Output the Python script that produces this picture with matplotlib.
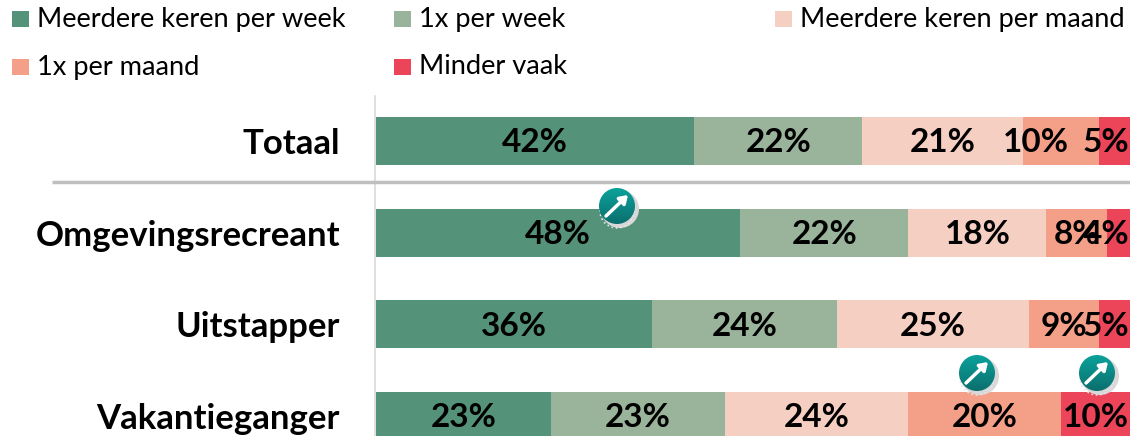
import numpy as np
from matplotlib import pyplot as plt
from matplotlib.colors import LinearSegmentedColormap
from matplotlib.patches import Circle, Rectangle

plt.rcParams['font.family'] = ['Lato', 'DejaVu Sans']

W, H = 1130, 436

groups = ['Totaal', 'Omgevingsrecreant', 'Uitstapper', 'Vakantieganger']
series = ['Meerdere keren per week', '1x per week', 'Meerdere keren per maand',
          '1x per maand', 'Minder vaak']
colors = ['#54927A', '#9AB49C', '#F6CFC3', '#F4A088', '#EC4459']

# widths, labels as printed in it
wekelijks = [42.2, 48.3, 36.6, 23.2]
een_week = [22.3, 22.3, 24.5, 23.1]
maandelijks = [21.3, 18.3, 25.5, 24.3]
een_maand = [10.1, 8.1, 9.3, 20.2]
minder = [4.1, 3.0, 4.1, 9.2]

labels_wekelijks = ['42%', '48%', '36%', '23%']
labels_een_week = ['22%', '22%', '24%', '23%']
labels_maandelijks = ['21%', '18%', '25%', '24%']
labels_een_maand = ['10%', '8%', '9%', '20%']
labels_minder = ['5%', '4%', '5%', '10%']

values = [wekelijks, een_week, maandelijks, een_maand, minder]
labels = [labels_wekelijks, labels_een_week, labels_maandelijks, labels_een_maand, labels_minder]

fig = plt.figure(figsize=(W / 100, H / 100), dpi=100)

# chart area, y runs from the axis top (px 96) to the picture bottom
ax = fig.add_axes([376 / W, 0, 754 / W, 340 / H])
# set_position resets the ticks, so it has to come before the tick setup
ax.spines['left'].set_position(('outward', 1))
y = np.arange(len(groups))
left = np.zeros(len(groups))
for k, (vals, labs, c) in enumerate(zip(values, labels, colors)):
    vals = np.array(vals)
    ax.barh(y, vals, left=left, height=0.524, color=c)
    for yi, l, v, t in zip(y, left, vals, labs):
        if k == len(values) - 1:
            # last segment: label pushed against the right edge, as in the original
            ax.text(99.9, yi + 0.02, t, ha='right', va='center', fontsize=24,
                    fontweight='bold', color='black')
            continue
        xt = l + v / 2
        if k == 3 and yi == 0:
            xt = xt - 3.4  # Totaal 10% sits left of its segment
        ax.text(xt, yi + 0.02, t, ha='center', va='center', fontsize=24,
                fontweight='bold', color='black', clip_on=False)
    left = left + vals

ax.set_xlim(0, 100)
ax.set_ylim(3.218, -0.49)
ax.set_xticks([])
ax.set_yticks(y)
ax.set_yticklabels(groups, fontsize=25, fontweight='bold')
ax.tick_params(axis='y', length=0, pad=25)
for s in ['top', 'right', 'bottom']:
    ax.spines[s].set_visible(False)
ax.spines['left'].set_color('#D9D9D9')
ax.spines['left'].set_linewidth(1.2)

# overlay in pixel coordinates for legend, separator and trend icons
ov = fig.add_axes([0, 0, 1, 1])
ov.patch.set_alpha(0)
ov.axis('off')

legend_x = [12, 394, 775, 12, 394]
legend_y = [19, 19, 19, 67, 67]
for name, c, lx, ly in zip(series, colors, legend_x, legend_y):
    ov.add_patch(Rectangle((lx, ly - 8), 17, 16, color=c, lw=0))
    ov.text(lx + 25, ly, name, fontsize=19.6, va='center', ha='left', color='black')

ov.plot([52, 1130], [182, 182], color='#BFBFBF', lw=2.5, solid_capstyle='butt')

teal = LinearSegmentedColormap.from_list('teal', ['#0BA39C', '#0B6F6E'])
icon_x = [617, 977, 1097]
icon_y = [206, 373, 373]
r = 18
for ix, iy in zip(icon_x, icon_y):
    ov.add_patch(Circle((ix + 3, iy + 3), r + 1, color='#D8D8D8', lw=0))
    ov.add_patch(Circle((ix, iy + 5), r - 1, fill=False, ec='#E4E4E4', lw=1.2, ls=':'))
    im = ov.imshow(np.linspace(0, 1, 64).reshape(-1, 1), cmap=teal, aspect='auto',
                   extent=(ix - r, ix + r, iy + r, iy - r), zorder=3)
    im.set_clip_path(Circle((ix, iy), r, transform=ov.transData))
    ov.annotate('', xy=(ix + 11, iy - 11), xytext=(ix - 11, iy + 10), zorder=4,
                arrowprops=dict(arrowstyle='-|>,head_width=0.3,head_length=0.45',
                                color='white', lw=2.5, shrinkA=0, shrinkB=0))

ov.set_xlim(0, W)
ov.set_ylim(H, 0)

plt.savefig('out.png', dpi=100)
